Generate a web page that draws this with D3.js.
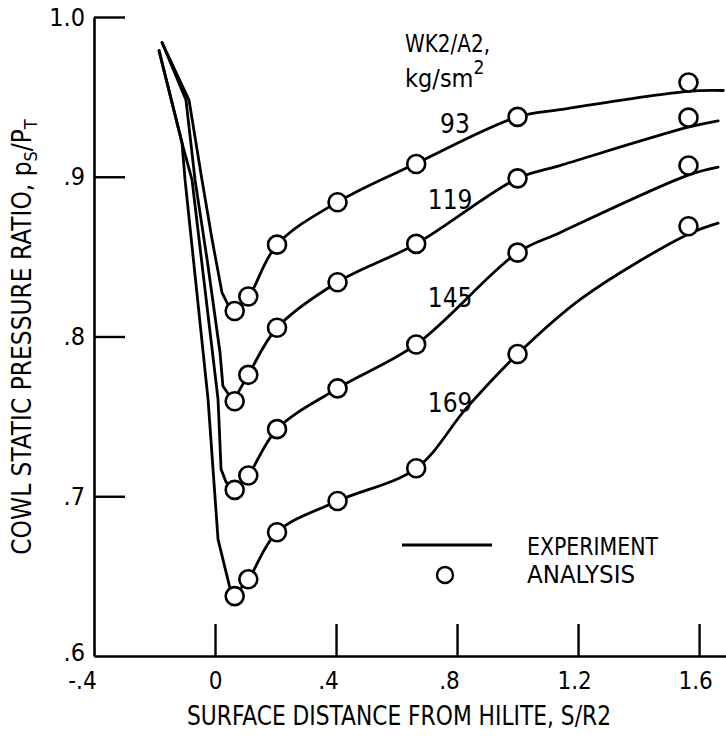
<!DOCTYPE html>
<html>
<head>
<meta charset="utf-8">
<script src="https://cdn.jsdelivr.net/npm/d3@7"></script>
<style>
  body { margin: 0; background: #fff; }
  svg { display: block; }
  text { font-family: "Liberation Sans Narrow", "DejaVu Sans Condensed", "Liberation Sans", sans-serif; fill: #000; }
</style>
</head>
<body>
<svg id="chart" width="726" height="740"></svg>
<script>
// Axis ticks
const xTickValues = [-0.4, 0, 0.4, 0.8, 1.2, 1.6];
const xTickLabels = ["-.4", "0", ".4", ".8", "1.2", "1.6"];
const yTickValues = [0.6, 0.7, 0.8, 0.9, 1.0];
const yTickLabels = [".6", ".7", ".8", ".9", "1.0"];

// Flow-rate series, WK2/A2 in kg/sm^2
const flowLabels = ["93", "119", "145", "169"];

// Analysis points (circles): surface distance S/R2 and pressure ratio
const analysisS = [0.065, 0.11, 0.205, 0.405, 0.665, 1.0, 1.565];
const analysis93  = [0.816, 0.825, 0.8575, 0.884, 0.908, 0.9375, 0.959];
const analysis119 = [0.7595, 0.776, 0.8055, 0.834, 0.858, 0.899, 0.937];
const analysis145 = [0.704, 0.713, 0.742, 0.7675, 0.795, 0.8525, 0.907];
const analysis169 = [0.6375, 0.648, 0.6775, 0.697, 0.7175, 0.789, 0.869];

// Experiment curves (solid lines)
const exp93S  = [-0.175, -0.086, -0.043, -0.010, 0.023, 0.043, 0.066, 0.112, 0.205, 0.407, 0.661, 1.0, 1.14, 1.564, 1.68];
const exp93P  = [0.984, 0.948, 0.898, 0.861, 0.8275, 0.82, 0.8156, 0.825, 0.8575, 0.8844, 0.908, 0.9375, 0.942, 0.9535, 0.954];
const exp119S = [-0.175, -0.096, -0.066, -0.026, 0.0165, 0.026, 0.06, 0.11, 0.205, 0.405, 0.665, 1.0, 1.14, 1.564, 1.663];
const exp119P = [0.984, 0.948, 0.898, 0.848, 0.79, 0.769, 0.7595, 0.776, 0.8055, 0.834, 0.858, 0.899, 0.907, 0.931, 0.935];
const exp145S = [-0.185, -0.106, -0.076, 0.01, 0.02, 0.036, 0.065, 0.11, 0.205, 0.405, 0.665, 1.0, 1.14, 1.564, 1.663];
const exp145P = [0.979, 0.919, 0.898, 0.7606, 0.7169, 0.709, 0.704, 0.713, 0.742, 0.7675, 0.795, 0.8525, 0.865, 0.901, 0.906];
const exp169S = [-0.185, -0.109, -0.099, -0.023, 0.01, 0.05, 0.06, 0.11, 0.205, 0.405, 0.665, 0.833, 1.0, 1.213, 1.564, 1.663];
const exp169P = [0.979, 0.921, 0.898, 0.7606, 0.673, 0.642, 0.6375, 0.648, 0.6775, 0.697, 0.7175, 0.7556, 0.789, 0.824, 0.864, 0.871];

const series = [
  { label: flowLabels[0], aP: analysis93,  eS: exp93S,  eP: exp93P,  lx: 0.793, ly: 0.9275 },
  { label: flowLabels[1], aP: analysis119, eS: exp119S, eP: exp119P, lx: 0.777, ly: 0.880 },
  { label: flowLabels[2], aP: analysis145, eS: exp145S, eP: exp145P, lx: 0.777, ly: 0.8187 },
  { label: flowLabels[3], aP: analysis169, eS: exp169S, eP: exp169P, lx: 0.777, ly: 0.7525 }
];

const svg = d3.select("#chart");

const x = d3.scaleLinear().domain([-0.4, 1.689]).range([94, 726]);
const y = d3.scaleLinear().domain([0.6, 1.0]).range([656, 17]);

// Y axis: ticks point inward, labels on the outside
const yAxis = svg.append("g")
  .attr("transform", `translate(${x(-0.4)},0)`)
  .call(d3.axisLeft(y)
    .tickValues(yTickValues)
    .tickFormat((d, i) => yTickLabels[i])
    .tickSizeInner(-31)
    .tickSizeOuter(0)
    .tickPadding(9));
yAxis.select(".domain").attr("stroke", "#000").attr("stroke-width", 2.6);
yAxis.selectAll(".tick line").attr("stroke", "#000").attr("stroke-width", 2.4)
  .filter(d => d === 0.6).remove();
yAxis.selectAll(".tick text").attr("font-size", 25).attr("font-family", null)
  .filter(d => d === 0.6).attr("dy", "0.16em");

// X axis; labels led by a point sit with their final digit at the tick
const xAxis = svg.append("g")
  .attr("transform", `translate(0,${y(0.6)})`)
  .call(d3.axisBottom(x)
    .tickValues(xTickValues)
    .tickFormat((d, i) => xTickLabels[i])
    .tickSizeInner(-32)
    .tickSizeOuter(0)
    .tickPadding(16));
xAxis.select(".domain").attr("stroke", "#000").attr("stroke-width", 2.6);
xAxis.selectAll(".tick line").attr("stroke", "#000").attr("stroke-width", 2.4)
  .filter(d => d === -0.4).remove();
xAxis.selectAll(".tick text").attr("font-size", 24).attr("font-family", null)
  .attr("dx", (d, i) => {
    const t = xTickLabels[i];
    if (t.startsWith("-")) return -12;
    if (t.startsWith(".")) return -8;
    if (t.length === 3) return -4;
    return 0;
  });

// Axis titles
svg.append("text")
  .attr("x", 187).attr("y", 725)
  .attr("font-size", 26)
  .attr("textLength", 424)
  .attr("lengthAdjust", "spacingAndGlyphs")
  .text("SURFACE DISTANCE FROM HILITE,  S/R2");

const yTitle = svg.append("text")
  .attr("transform", "translate(31,337) rotate(-90)")
  .attr("text-anchor", "middle")
  .attr("font-size", 26);
yTitle.append("tspan").text("COWL STATIC PRESSURE RATIO,  p");
yTitle.append("tspan").attr("font-size", 18).attr("dy", 6).text("S");
yTitle.append("tspan").attr("dy", -6).text("/P");
yTitle.append("tspan").attr("font-size", 18).attr("dy", 6).text("T");

// Experiment curves: straight runs down to the suction peak, smooth recovery after it
const descent = d3.line().x(d => x(d[0])).y(d => y(d[1])).curve(d3.curveLinear);
const recovery = d3.line().x(d => x(d[0])).y(d => y(d[1])).curve(d3.curveCatmullRom.alpha(0.5));

series.forEach(s => {
  const pts = s.eS.map((v, i) => [v, s.eP[i]]);
  const iMin = d3.minIndex(s.eP);
  [descent(pts.slice(0, iMin + 1)), recovery(pts.slice(iMin))].forEach(d => {
    svg.append("path")
      .attr("d", d)
      .attr("fill", "none")
      .attr("stroke", "#000")
      .attr("stroke-width", 2.8)
      .attr("stroke-linejoin", "round")
      .attr("stroke-linecap", "round");
  });
});

// Analysis circles
series.forEach(s => {
  svg.append("g").selectAll("circle")
    .data(analysisS.map((v, i) => [v, s.aP[i]]))
    .join("circle")
    .attr("cx", d => x(d[0]))
    .attr("cy", d => y(d[1]))
    .attr("r", 9)
    .attr("fill", "#fff")
    .attr("stroke", "#000")
    .attr("stroke-width", 2.6);
});

// Curve labels
series.forEach(s => {
  svg.append("text")
    .attr("x", x(s.lx)).attr("y", y(s.ly))
    .attr("text-anchor", "middle")
    .attr("font-size", 26)
    .text(s.label);
});

// Parameter heading
svg.append("text").attr("x", 405).attr("y", 52).attr("font-size", 25)
  .attr("textLength", 85).attr("lengthAdjust", "spacingAndGlyphs").text("WK2/A2,");
const unit = svg.append("text").attr("x", 405).attr("y", 87).attr("font-size", 25);
unit.append("tspan").text("kg/sm");
unit.append("tspan").attr("font-size", 19).attr("dy", -13).text("2");

// Legend
const legend = svg.append("g");
legend.append("line")
  .attr("x1", 402).attr("x2", 492).attr("y1", 545).attr("y2", 545)
  .attr("stroke", "#000").attr("stroke-width", 2.8);
legend.append("circle")
  .attr("cx", 445).attr("cy", 575).attr("r", 8)
  .attr("fill", "#fff").attr("stroke", "#000").attr("stroke-width", 2.4);
legend.append("text").attr("x", 527).attr("y", 555).attr("font-size", 25)
  .attr("textLength", 131).attr("lengthAdjust", "spacingAndGlyphs").text("EXPERIMENT");
legend.append("text").attr("x", 527).attr("y", 583).attr("font-size", 25)
  .attr("textLength", 108).attr("lengthAdjust", "spacingAndGlyphs").text("ANALYSIS");
</script>
</body>
</html>
